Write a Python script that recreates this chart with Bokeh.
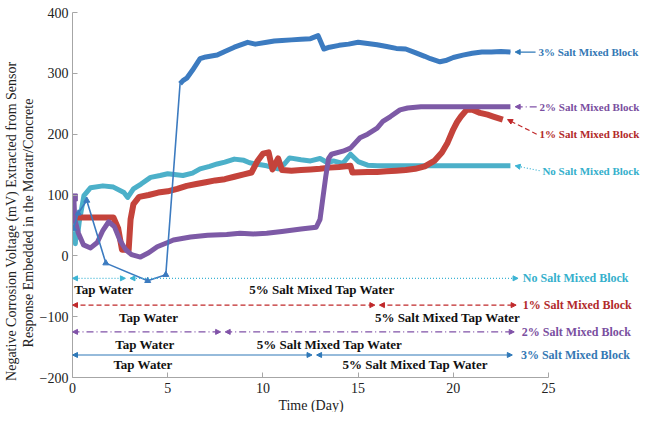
import numpy as np
from bokeh.plotting import figure
from bokeh.models import Range1d, Arrow, NormalHead, Title
from bokeh.core.properties import value
from bokeh.embed import file_html
from bokeh.resources import INLINE

# ---------------- data ----------------
nosalt_t = [0.05, 0.1, 0.15, 0.2, 0.25, 0.35, 0.6, 0.95, 1.6, 2.15, 2.7, 2.9, 3.2, 3.6, 4.1, 4.6,
            5.0, 5.8, 6.3, 6.7, 7.2, 7.6, 8.0, 8.5, 9.0, 9.3, 9.8, 10.2, 10.8, 11.1, 11.4, 12.0,
            12.5, 13.0, 13.4, 13.7, 14.2, 14.6, 15.0, 15.5, 16.0, 17.0, 18.0, 19.0, 20.0, 21.0,
            22.0, 23.0]
nosalt_v = [40, 70, 20, 60, 30, 55, 99, 112, 115, 113, 104, 96, 110, 118, 129, 132,
            135, 132, 136, 143, 147, 151, 154, 159, 157, 153, 150, 148, 143, 150, 161, 158,
            156, 160, 153, 156, 152, 167, 155, 149, 148, 148, 148, 148, 148, 148,
            148, 148]

salt1_t = [0.1, 0.5, 1.0, 1.5, 2.15, 2.4, 2.6, 2.95, 3.05, 3.2, 3.5, 4.0, 4.5, 5.0, 5.5, 6.0,
           6.5, 7.0, 7.5, 8.0, 8.5, 9.0, 9.4, 9.7, 10.0, 10.3, 10.5, 10.8, 11.0, 11.5, 12.0,
           12.5, 13.0, 13.5, 14.0, 14.6, 14.7, 15.5, 16.0, 16.5, 17.0, 17.5, 18.0, 18.5, 19.0,
           19.4, 19.7, 20.0, 20.2, 20.4, 20.7, 21.0, 21.4, 21.8, 22.1, 22.6]
salt1_v = [63, 63, 63, 63, 63, 45, 10, 10, 60, 85, 97, 100, 104, 106, 110, 115,
           118, 121, 124, 126, 130, 134, 137, 155, 168, 170, 142, 160, 141, 140, 141,
           142, 143, 145, 146, 148, 137, 138, 138, 139, 140, 141, 143, 147, 156,
           170, 186, 208, 220, 229, 240, 240, 235, 232, 229, 224]

salt2_t = [0.07, 0.12, 0.3, 0.58, 0.95, 1.3, 1.6, 1.9, 2.2, 2.5, 2.8, 3.1, 3.57, 4.0, 4.45,
           5.0, 5.3, 6.2, 7.1, 8.1, 8.8, 9.5, 10.2, 11.0, 12.0, 12.8, 13.0, 13.15, 13.3, 13.45,
           13.6, 14.2, 14.6, 15.1, 15.5, 16.0, 16.3, 16.7, 17.2, 17.6, 18.3, 19.0, 20.0, 21.0,
           22.0, 23.0]
salt2_v = [96, 60, 38, 18, 13, 22, 42, 56, 48, 25, 10, 2, -2, 5, 15,
           22, 26, 31, 34, 35, 37, 36, 37, 40, 44, 47, 60, 95, 130, 160,
           167, 172, 177, 194, 200, 210, 221, 229, 240, 243, 245, 245, 245, 245,
           245, 245]

salt3_t = [0.05, 0.3, 0.75, 1.75, 3.95, 4.9, 5.65, 5.8, 6.0, 6.3, 6.7, 7.0, 7.6, 8.0, 8.5,
           9.2, 9.6, 10.2, 10.6, 11.0, 11.5, 12.0, 12.5, 12.9, 13.2, 13.5, 14.0, 14.5, 15.0,
           15.5, 16.0, 16.5, 17.0, 17.5, 18.0, 18.5, 18.8, 19.3, 19.6, 20.0, 20.5, 21.0, 21.5,
           22.0, 22.5, 23.0]
salt3_v = [45, 70, 91, -12, -41, -31, 283, 288, 292, 305, 324, 327, 330, 336, 343,
           351, 348, 351, 353, 354, 355, 356, 357, 362, 340, 343, 346, 348, 351,
           349, 347, 344, 341, 340, 334, 328, 324, 319, 321, 326, 330, 333, 335,
           335, 336, 335]

# treatment schedule: [No Salt, 1%, 2%, 3%]
block_names = ["No Salt Mixed Block", "1% Salt Mixed Block", "2% Salt Mixed Block", "3% Salt Mixed Block"]
switch_day = [2.9, 16.0, 7.9, 12.7]
end_day = [23.4, 23.3, 23.2, 23.1]
phase1 = "Tap Water"
phase2 = "5% Salt Mixed Tap Water"

x_ticks = [0, 5, 10, 15, 20, 25]
y_ticks = [-200, -100, 0, 100, 200, 300, 400]

# ---------------- layout / style ----------------
serif = "Liberation Serif"
line_cols = {"none": "#4cb0c9", "s1": "#c4433b", "s2": "#7d5aa6", "s3": "#3c7bc0"}
txt_cols = ["#36b0cc", "#b22a2a", "#7a4fa0", "#3478b4"]
row_cols = ["#3cb4d4", "#c0282a", "#8052a8", "#2e78b8"]
row_dash = ["1 2", "5 3", "7 3 1 3", "solid"]
row_level = [-37, -81, -125, -163]
row_lab_x = [23.65, 23.65, 23.6, 23.55]
phase_y = [-55, -102, -146, -179]
phase1_x = [1.65, 4.0, 3.8, 3.7]
phase2_x = [13.1, 19.7, 13.5, 18.0]
lab_x = [24.68, 24.53, 24.53, 24.47]
lab_y = [140, 200, 245, 335]

W, H = 640, 412
left, top, bottom = 72, 12, 34
xmax = (W - left) / 19.04
NB = "\u00a0"

p = figure(width=W, height=H, output_backend="svg", toolbar_location=None,
           x_range=Range1d(0, xmax), y_range=Range1d(-200, 400),
           min_border_left=left, min_border_right=0, min_border_top=top, min_border_bottom=bottom)
p.outline_line_color = None
p.grid.visible = False
p.background_fill_color = "white"
for ax in (p.xaxis[0], p.yaxis[0]):
    ax.axis_line_color = "#a6a6a6"
    ax.major_tick_line_color = "#a6a6a6"
    ax.major_tick_in = 5
    ax.major_tick_out = 0
    ax.minor_tick_line_color = None
    ax.major_label_text_font = serif
    ax.major_label_text_font_size = "14px"
    ax.major_label_text_color = "#222222"
p.xaxis.ticker = x_ticks
p.yaxis.ticker = y_ticks
p.xaxis.bounds = (0, 25)
p.yaxis.bounds = (-200, 400)
p.xaxis.major_label_standoff = 5
p.yaxis.major_label_standoff = 4

# series
p.line(nosalt_t, nosalt_v, line_color=line_cols["none"], line_width=5, line_join="round")
p.line(salt1_t, salt1_v, line_color=line_cols["s1"], line_width=6, line_join="round")
p.line(salt2_t, salt2_v, line_color=line_cols["s2"], line_width=5, line_join="round")
p.scatter(salt2_t[:1], salt2_v[:1], marker="square", size=7, color=line_cols["s2"])
s3t = np.array(salt3_t)
s3v = np.array(salt3_v)
p.line(s3t, s3v, line_color=line_cols["s3"], line_width=1.6)
dense = s3t >= 5.6
p.line(s3t[dense], s3v[dense], line_color=line_cols["s3"], line_width=5, line_join="round")
p.scatter(s3t[~dense], s3v[~dense], marker="triangle", size=6, color=line_cols["s3"])

# right-hand block labels with pointers to the series ends
series_end = [(nosalt_t[-1], nosalt_v[-1]), (salt1_t[-1], salt1_v[-1]),
              (salt2_t[-1], salt2_v[-1]), (salt3_t[-1], salt3_v[-1])]
for i in range(4):
    ex, ey = series_end[i]
    p.add_layout(Arrow(end=NormalHead(size=5, fill_color=row_cols[i], line_color=row_cols[i]),
                       x_start=lab_x[i] - 0.15, y_start=lab_y[i], x_end=ex + 0.25, y_end=ey,
                       line_color=row_cols[i], line_width=1.2, line_dash=row_dash[i]))
p.text(x=lab_x, y=lab_y, text=block_names, text_color=txt_cols,
       text_font=value(serif), text_font_style="bold", text_font_size="11px",
       text_align="left", text_baseline="middle")

# exposure schedule rows
for i in range(4):
    c = row_cols[i]
    lv = row_level[i]
    for xs, xe in ((0.0, switch_day[i] - 0.12), (switch_day[i] + 0.12, end_day[i])):
        p.add_layout(Arrow(start=NormalHead(size=5, fill_color=c, line_color=c),
                           end=NormalHead(size=5, fill_color=c, line_color=c),
                           x_start=xs, y_start=lv, x_end=xe, y_end=lv,
                           line_color=c, line_width=1.2, line_dash=row_dash[i]))
p.text(x=row_lab_x, y=row_level, text=block_names, text_color=txt_cols,
       text_font=value(serif), text_font_style="bold", text_font_size="12px",
       text_align="left", text_baseline="middle")
p.text(x=phase1_x, y=phase_y, text=[phase1] * 4, text_color="#111111",
       text_font=value(serif), text_font_style="bold", text_font_size="13px",
       text_align="center", text_baseline="middle")
p.text(x=phase2_x, y=phase_y, text=[phase2] * 4, text_color="#111111",
       text_font=value(serif), text_font_style="bold", text_font_size="13px",
       text_align="center", text_baseline="middle")

# axis titles
p.add_layout(Title(text="Response Embedded  in the Moratr/Concrete" + NB * 15, align="center",
                   vertical_align="middle",
                   text_font=serif, text_font_size="14px", text_font_style="normal",
                   text_color="#222222", standoff=0), "left")
p.add_layout(Title(text="Negative Corrosion Voltage (mV) Extracted from Sensor" + NB * 15,
                   align="center", vertical_align="middle",
                   text_font=serif, text_font_size="14px", text_font_style="normal",
                   text_color="#222222", standoff=0), "left")
p.add_layout(Title(text="Time (Day)" + NB * 26, align="center",
                   text_font=serif, text_font_size="14px", text_font_style="normal",
                   text_color="#222222", standoff=0), "below")

open("out.html", "w").write(file_html(p, INLINE))
